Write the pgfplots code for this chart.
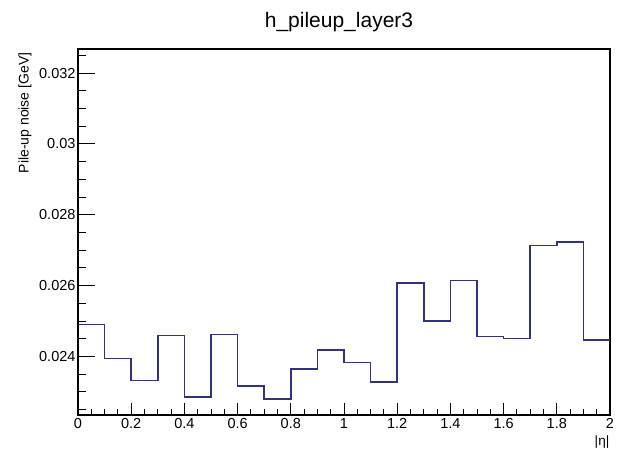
\documentclass[border=0pt]{standalone}
\usepackage{pgfplots}
\pgfplotsset{compat=1.18}
\usepackage{fontspec}
\setmainfont{Liberation Sans}
\definecolor{histblue}{rgb}{0.2,0.2,0.48}
\begin{document}
\begin{tikzpicture}[x=1pt,y=1pt]
\useasboundingbox (0,0) rectangle (619,448);
\begin{axis}[
  at={(78pt,33pt)}, anchor=south west,
  scale only axis, width=532pt, height=366pt,
  xmin=0, xmax=2, ymin=0.02235, ymax=0.03268,
  xtick={0,0.2,0.4,0.6,0.8,1,1.2,1.4,1.6,1.8,2},
  minor xtick={0.05,0.1,0.15,0.25,0.3,0.35,0.45,0.5,0.55,0.65,0.7,0.75,0.85,0.9,0.95,1.05,1.1,1.15,1.25,1.3,1.35,1.45,1.5,1.55,1.65,1.7,1.75,1.85,1.9,1.95},
  ytick={0.024,0.026,0.028,0.03,0.032},
  minor ytick={0.0225,0.023,0.0235,0.0245,0.025,0.0255,0.0265,0.027,0.0275,0.0285,0.029,0.0295,0.0305,0.031,0.0315,0.0325},
  tick align=inside, xtick pos=bottom, ytick pos=left,
  xtick style={/pgfplots/major tick length=12pt, /pgfplots/minor tick length=6pt, black, line width=1pt},
  ytick style={/pgfplots/major tick length=17pt, /pgfplots/minor tick length=8pt, black, line width=1pt},
  axis line style={line width=1.1pt},
  scaled y ticks=false, scaled x ticks=false,
  yticklabel style={/pgf/number format/fixed, /pgf/number format/precision=3, font=\fontsize{14.5}{17}\selectfont, xshift=1pt},
  xticklabel style={/pgf/number format/fixed, font=\fontsize{14.5}{17}\selectfont},
  /pgf/number format/assume math mode=true,
  clip=false,
]
\addplot[const plot, histblue, line width=1.6pt] coordinates {
(0.0,0.02490) (0.1,0.02395) (0.2,0.02332) (0.3,0.02459) (0.4,0.02285)
(0.5,0.02462) (0.6,0.02317) (0.7,0.02281) (0.8,0.02364) (0.9,0.02419)
(1.0,0.02383) (1.1,0.02328) (1.2,0.02608) (1.3,0.02501) (1.4,0.02615)
(1.5,0.02456) (1.6,0.02451) (1.7,0.02713) (1.8,0.02724) (1.9,0.02446)
(2.0,0.02446)};
\end{axis}
\node[font=\fontsize{21}{25}\selectfont] at (339,426) {h\_pileup\_layer3};
\node[rotate=90, anchor=east, font=\fontsize{14}{17}\selectfont] at (25,399) {Pile-up noise [GeV]};
\node[font=\fontsize{13.5}{16}\selectfont] at (602,6) {|η|};
\end{tikzpicture}
\end{document}
